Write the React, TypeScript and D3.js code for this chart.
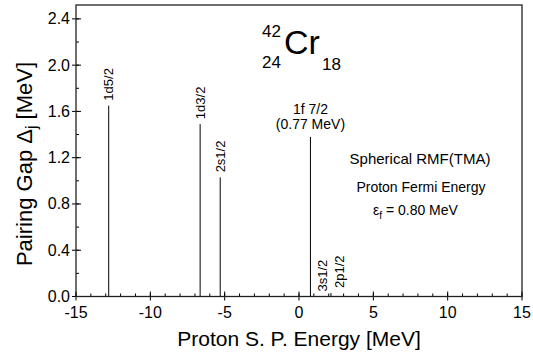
import React from "react";
import * as d3 from "d3";

const levelLabels = ["1d5/2", "1d3/2", "2s1/2", "1f 7/2", "3s1/2", "2p1/2"];
const levelEnergies = [-12.8, -6.65, -5.3, 0.77, 2.15, 2.15];
const levelGaps = [1.65, 1.49, 1.03, 1.38, 0.0, 0.03];
const xTickValues = [-15, -10, -5, 0, 5, 10, 15];
const yTickValues = [0, 0.4, 0.8, 1.2, 1.6, 2.0, 2.4];

const W = 533;
const H = 352;
const FONT = "'Liberation Sans', Arial, sans-serif";

export default function App() {
  const left = 76, right = 522, top = 5, bottom = 296.5;
  const x = d3.scaleLinear().domain([-15, 15]).range([left, right]);
  const y = d3.scaleLinear().domain([0, 2.52]).range([bottom, top]);
  const xMinor = d3.range(-15, 15.01, 1);
  const yMinor = d3.range(0, 2.52, 0.2);

  const labelOffsets: Record<string, number> = { "3s1/2": -8, "2p1/2": 9 };

  return (
    <svg width={W} height={H} style={{ position: "absolute", left: 0, top: 0, background: "#fff" }} fontFamily={FONT}>
      <rect x={0} y={0} width={W} height={H} fill="#fff" />
      {/* minor ticks */}
      {xMinor.map((v) => (
        <line key={"xm" + v} x1={x(v)} x2={x(v)} y1={bottom} y2={bottom - 3} stroke="#000" strokeWidth={1} />
      ))}
      {yMinor.map((v) => (
        <line key={"ym" + v} x1={left} x2={left + 3} y1={y(v)} y2={y(v)} stroke="#000" strokeWidth={1} />
      ))}
      {/* major ticks */}
      {xTickValues.map((v) => (
        <g key={"xt" + v}>
          <line x1={x(v)} x2={x(v)} y1={bottom - 5} y2={bottom + 4} stroke="#000" strokeWidth={1} />
          <text x={x(v)} y={318} fontSize={16} textAnchor="middle" fill="#000">{v}</text>
        </g>
      ))}
      {yTickValues.map((v) => (
        <g key={"yt" + v}>
          <line x1={left - 4} x2={left + 5} y1={y(v)} y2={y(v)} stroke="#000" strokeWidth={1} />
          <text x={70} y={y(v) + 5.5} fontSize={16} textAnchor="end" fill="#000">{v.toFixed(1)}</text>
        </g>
      ))}
      {/* level lines */}
      {levelLabels.map((lab, i) => {
        const xv = x(levelEnergies[i]);
        const yv = y(levelGaps[i]);
        return (
          <g key={lab}>
            <line x1={xv} x2={xv} y1={bottom} y2={yv} stroke="#000" strokeWidth={1} />
            {lab === "1f 7/2" ? (
              <g>
                <text x={xv} y={yv - 23} fontSize={14} textAnchor="middle">{lab}</text>
                <text x={xv} y={yv - 8} fontSize={14} textAnchor="middle">(0.77 MeV)</text>
              </g>
            ) : (
              <text
                transform={`translate(${xv + (labelOffsets[lab] || 0) + 4.5},${yv - 5}) rotate(-90)`}
                fontSize={13}
                textAnchor="start"
              >
                {lab}
              </text>
            )}
          </g>
        );
      })}
      {/* frame */}
      <rect x={left} y={top} width={right - left} height={bottom - top} fill="none" stroke="#222" strokeWidth={1.3} />
      {/* nucleus title */}
      <text x={262} y={37} fontSize={17}>42</text>
      <text x={262} y={68} fontSize={17}>24</text>
      <text x={284} y={54} fontSize={34}>Cr</text>
      <text x={322} y={70} fontSize={17}>18</text>
      {/* annotations */}
      <text x={420} y={164} fontSize={15} textAnchor="middle">Spherical RMF(TMA)</text>
      <text x={421} y={192} fontSize={14} textAnchor="middle">Proton Fermi Energy</text>
      <text x={373} y={215} fontSize={14}>
        ε<tspan fontSize={10} dy={4}>f</tspan>
        <tspan dy={-4}> = 0.80 MeV</tspan>
      </text>
      {/* axis titles */}
      <text x={299} y={346} fontSize={21} textAnchor="middle">Proton S. P. Energy [MeV]</text>
      <text transform={`translate(32,164) rotate(-90)`} fontSize={22} textAnchor="middle">
        Pairing Gap Δ<tspan fontSize={16} dy={5}>j</tspan>
        <tspan dy={-5}> [MeV]</tspan>
      </text>
    </svg>
  );
}
